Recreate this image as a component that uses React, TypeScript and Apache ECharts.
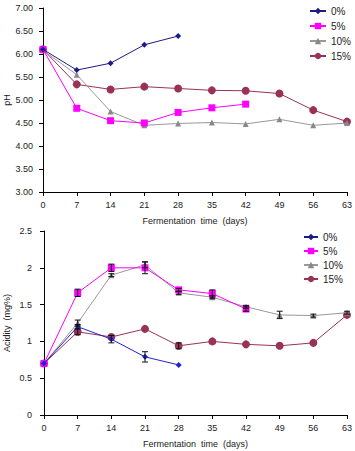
import React, { useEffect, useRef } from "react";
import * as echarts from "echarts";

const days = [0, 7, 14, 21, 28, 35, 42, 49, 56, 63];
const seriesNames = ["0%", "5%", "10%", "15%"];

const ph0 = [6.10, 5.65, 5.80, 6.20, 6.39];
const ph5 = [6.10, 4.82, 4.55, 4.50, 4.73, 4.83, 4.91];
const ph10 = [6.08, 5.55, 4.75, 4.45, 4.49, 4.51, 4.48, 4.58, 4.45, 4.50];
const ph15 = [6.10, 5.34, 5.23, 5.29, 5.25, 5.21, 5.20, 5.14, 4.78, 4.53];

const ac0 = [0.70, 1.20, 1.03, 0.79, 0.68];
const ac5 = [0.70, 1.66, 2.00, 2.00, 1.70, 1.65, 1.44];
const ac10 = [0.70, 1.25, 1.90, 2.04, 1.66, 1.60, 1.47, 1.36, 1.35, 1.39];
const ac15 = [0.70, 1.13, 1.06, 1.17, 0.94, 1.00, 0.96, 0.94, 0.98, 1.36];

// standard errors (acidity)
const err0 = [0, 0.03, 0.05, 0.07, 0.01];
const err5 = [0, 0.05, 0.05, 0.08, 0.02, 0.05, 0.03];
const err10 = [0, 0.04, 0.02, 0.04, 0.02, 0.02, 0.02, 0.05, 0.02, 0.02];
const err15 = [0, 0.04, 0.01, 0.01, 0.04, 0.01, 0.01, 0.01, 0.01, 0.01];

const colors = ["#1c1c88", "#ff00ff", "#999999", "#993355"];
const colors2 = ["#2323cc", "#ff00ff", "#999999", "#993355"];
const markerColors = ["#1c1c88", "#ff00ff", "#888888", "#993355"];
const symbols = ["diamond", "rect", "triangle", "circle"];
const symbolSizes = [6, 7, 6, 8];

const font = "Liberation Sans, Arial, sans-serif";
const fs = 9;

export default function App() {
  const ref = useRef<HTMLDivElement>(null);
  useEffect(() => {
    if (!ref.current) return;
    const chart = echarts.init(ref.current, null, { renderer: "svg" });
    const phData = [ph0, ph5, ph10, ph15];
    const acData = [ac0, ac5, ac10, ac15];
    const errData = [err0, err5, err10, err15];

    const xAxisBase = (gridIndex: number) => ({
      type: "value",
      gridIndex,
      min: 0,
      max: 63,
      interval: 7,
      name: "Fermentation  time  (days)",
      nameLocation: "middle",
      nameGap: 24,
      nameMoveOverlap: false,
      nameTextStyle: { fontFamily: font, fontSize: fs, color: "#222", whiteSpace: "pre" },
      axisLine: { lineStyle: { color: "#000", width: 1 } },
      axisTick: { show: true, length: 4, lineStyle: { color: "#000" } },
      axisLabel: { fontFamily: font, fontSize: fs, color: "#222", margin: 8 },
      splitLine: { show: false },
    });

    const lineSeries: any[] = [];
    phData.forEach((arr, i) => {
      lineSeries.push({
        type: "line",
        name: seriesNames[i],
        xAxisIndex: 0,
        yAxisIndex: 0,
        data: arr.map((v, j) => [days[j], v]),
        symbol: symbols[i],
        symbolSize: symbolSizes[i],
        lineStyle: { color: colors[i], width: 1 },
        itemStyle: { color: markerColors[i] },
        color: colors[i],
        z: 2 + (3 - i),
      });
    });
    acData.forEach((arr, i) => {
      lineSeries.push({
        type: "line",
        name: seriesNames[i],
        xAxisIndex: 1,
        yAxisIndex: 1,
        data: arr.map((v, j) => [days[j], v]),
        symbol: symbols[i],
        symbolSize: symbolSizes[i],
        lineStyle: { color: colors2[i], width: 1 },
        itemStyle: { color: i === 0 ? colors2[0] : markerColors[i] },
        color: colors2[i],
        z: 2 + (3 - i),
      });
      lineSeries.push({
        type: "custom",
        xAxisIndex: 1,
        yAxisIndex: 1,
        data: arr.map((v, j) => [days[j], v - errData[i][j], v + errData[i][j]]),
        z: 10,
        silent: true,
        renderItem: (params: any, api: any) => {
          const x = api.value(0);
          const lo = api.coord([x, api.value(1)]);
          const hi = api.coord([x, api.value(2)]);
          if (Math.abs(hi[1] - lo[1]) < 2) return null;
          const w = 3;
          const style = { stroke: "#111", lineWidth: 1 };
          return {
            type: "group",
            children: [
              { type: "line", shape: { x1: lo[0], y1: lo[1], x2: hi[0], y2: hi[1] }, style },
              { type: "line", shape: { x1: lo[0] - w, y1: lo[1], x2: lo[0] + w, y2: lo[1] }, style },
              { type: "line", shape: { x1: hi[0] - w, y1: hi[1], x2: hi[0] + w, y2: hi[1] }, style },
            ],
          };
        },
      });
    });

    const legendBase = {
      orient: "vertical",
      itemWidth: 16,
      itemHeight: 8,
      itemGap: 5,
      padding: 0,
      textStyle: { fontFamily: font, fontSize: 10, color: "#222" },
      data: seriesNames,
      selectedMode: false,
    };

    chart.setOption({
      animation: false,
      backgroundColor: "#fff",
      grid: [
        { left: 43, right: 8, top: 8, height: 184, outerBoundsMode: "none", containLabel: false },
        { left: 44, right: 8, top: 231, height: 184, outerBoundsMode: "none", containLabel: false },
      ],
      legend: [
        { ...legendBase, left: 309, top: 6 },
        { ...legendBase, left: 303, top: 232, itemGap: 4, itemWidth: 14 },
      ],
      xAxis: [xAxisBase(0), xAxisBase(1)],
      yAxis: [
        {
          type: "value",
          gridIndex: 0,
          min: 3,
          max: 7,
          interval: 0.5,
          name: "pH",
          nameLocation: "middle",
          nameGap: 32,
          nameMoveOverlap: false,
          nameTextStyle: { fontFamily: font, fontSize: fs, color: "#222" },
          axisLine: { show: true, lineStyle: { color: "#000" } },
          axisTick: { show: true, length: 4, lineStyle: { color: "#000" } },
          axisLabel: {
            fontFamily: font,
            fontSize: fs,
            color: "#222",
            margin: 10,
            formatter: (v: number) => v.toFixed(2),
          },
          splitLine: { show: false },
        },
        {
          type: "value",
          gridIndex: 1,
          min: 0,
          max: 2.5,
          interval: 0.5,
          name: "Acidity  (mg%)",
          nameLocation: "middle",
          nameGap: 33,
          nameMoveOverlap: false,
          nameTextStyle: { fontFamily: font, fontSize: fs, color: "#222", whiteSpace: "pre" },
          axisLine: { show: true, lineStyle: { color: "#000" } },
          axisTick: { show: true, length: 4, lineStyle: { color: "#000" } },
          axisLabel: { fontFamily: font, fontSize: fs, color: "#222", margin: 12 },
          splitLine: { show: false },
        },
      ],
      series: lineSeries,
    });
    return () => chart.dispose();
  }, []);
  return (
    <div
      ref={ref}
      style={{ position: "fixed", left: 0, top: 0, width: 355, height: 451, background: "#fff" }}
    />
  );
}
